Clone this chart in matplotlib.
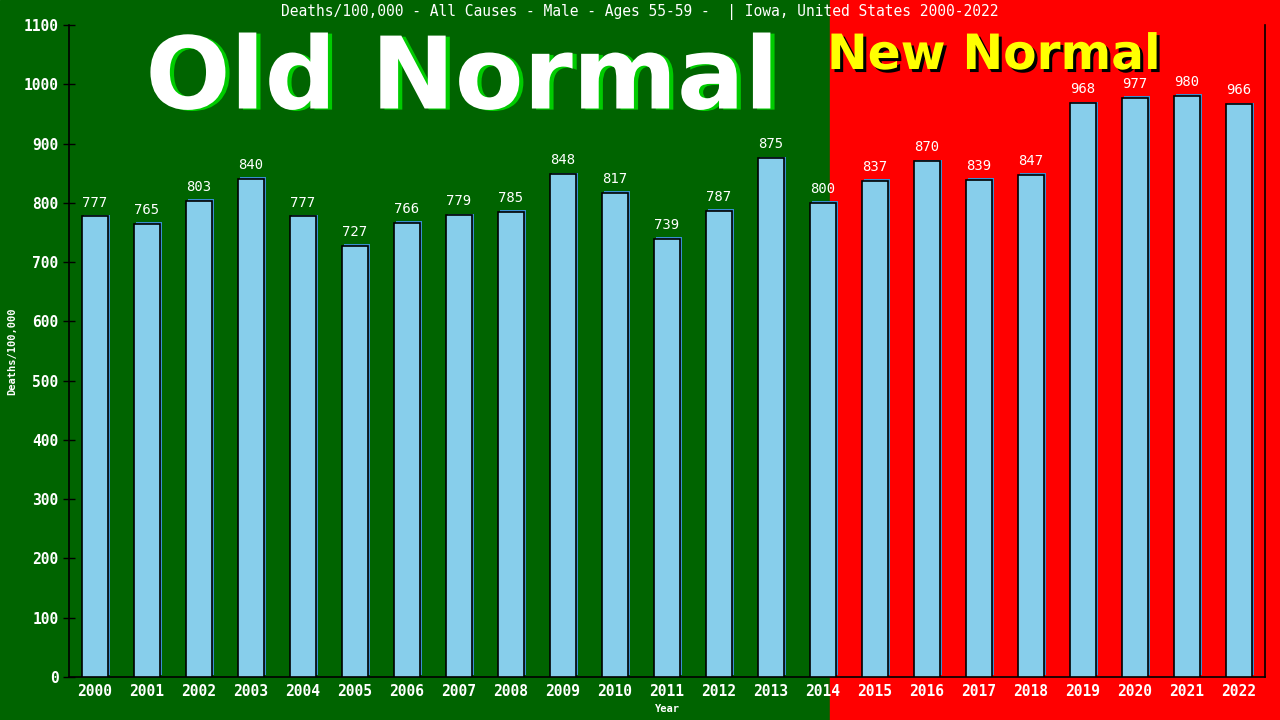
import numpy as np
import matplotlib.pyplot as plt
import matplotlib.patheffects as pe
from matplotlib.patches import Rectangle
from matplotlib.transforms import offset_copy

years = [str(y) for y in range(2000, 2023)]
deaths = [777, 765, 803, 840, 777, 727, 766, 779, 785, 848, 817, 739,
          787, 875, 800, 837, 870, 839, 847, 968, 977, 980, 966]
title = "Deaths/100,000 - All Causes - Male - Ages 55-59 -  | Iowa, United States 2000-2022"

mono = "DejaVu Sans Mono"
green = "#006400"
red = "#ff0000"

fig = plt.figure(figsize=(12.8, 7.2), dpi=100)
split = 830 / 1280
fig.patches.append(Rectangle((0, 0), split, 1, transform=fig.transFigure,
                             color=green, zorder=-10))
fig.patches.append(Rectangle((split, 0), 1 - split, 1, transform=fig.transFigure,
                             color=red, zorder=-10))

ax = fig.add_axes([69 / 1280, 43 / 720, 1196 / 1280, 652 / 720])
ax.patch.set_alpha(0)

x = np.arange(len(years))
# blue shadow behind each bar, shifted a pixel right and up
shadow = offset_copy(ax.transData, fig=fig, x=1.2, y=1.2, units="points")
ax.bar(x, deaths, width=0.5, color="#3a8fd0", transform=shadow, zorder=2)
ax.bar(x, deaths, width=0.5, color="#87ceeb", edgecolor="black",
       linewidth=1.2, zorder=3)

for xi, v in zip(x, deaths):
    ax.annotate(str(v), (xi, v), xytext=(0, 5), textcoords="offset points",
                ha="center", va="bottom", color="white", fontsize=10,
                family=mono, zorder=4)

ax.set_xlim(-0.5, len(years) - 0.5)
ax.set_ylim(0, 1100)
ax.set_yticks(range(0, 1101, 100))
ax.set_xticks(x)
ax.set_xticklabels(years)
for lab in ax.get_xticklabels() + ax.get_yticklabels():
    lab.set_family(mono)
    lab.set_fontsize(10.5)
    lab.set_fontweight("bold")
    lab.set_color("white")
ax.tick_params(axis="y", direction="inout", length=8, width=1, color="black")
ax.tick_params(axis="x", length=0, pad=5)
ax.spines["top"].set_visible(False)
for s in ["left", "right", "bottom"]:
    ax.spines[s].set_color("black")
    ax.spines[s].set_linewidth(1.2)

ax.set_ylabel("Deaths/100,000", family=mono, fontsize=7.5, fontweight="bold",
              color="white")
ax.yaxis.set_label_coords(-52 / 1196, 0.5)
ax.set_xlabel("Year", family=mono, fontsize=7.5, fontweight="bold",
              color="white")
ax.xaxis.set_label_coords(0.5, -27 / 652)

fig.text(0.5, 1 - 12 / 720, title, ha="center", va="center",
         family=mono, fontsize=10.5, color="white")

# big banner words with a drop shadow
fig.text(462 / 1280, 1 - 81 / 720, "Old Normal", ha="center", va="center",
         fontsize=72, fontweight="bold", color="white",
         path_effects=[pe.SimplePatchShadow(offset=(3, -0.8), shadow_rgbFace="#00cc00",
                                            alpha=1), pe.Normal()])
fig.text(994 / 1280, 1 - 55 / 720, "New Normal", ha="center", va="center",
         fontsize=35, fontweight="bold", color="#ffff00",
         path_effects=[pe.SimplePatchShadow(offset=(2.2, -2.2), shadow_rgbFace="black",
                                            alpha=1), pe.Normal()])

fig.savefig("out.png", dpi=100, facecolor=fig.get_facecolor())
